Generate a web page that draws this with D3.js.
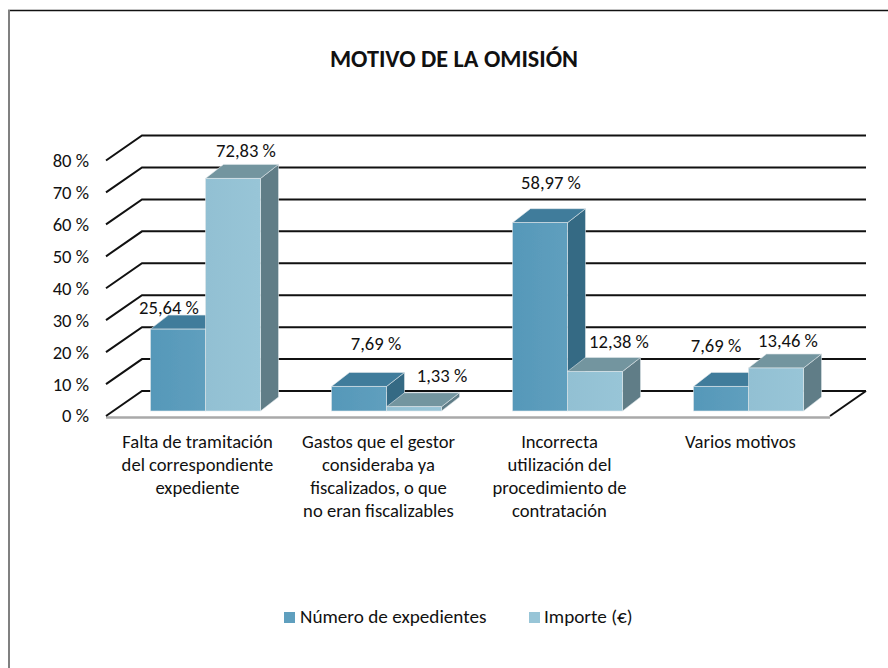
<!DOCTYPE html>
<html>
<head>
<meta charset="utf-8">
<script src="https://cdn.jsdelivr.net/npm/d3@7"></script>
<style>
  html, body { margin: 0; padding: 0; background: #fff; }
  svg { display: block; }
  text { font-family: Carlito, Lato, "Open Sans", sans-serif; fill: #111; }
</style>
</head>
<body>
<script>
var categories = [
  ["Falta de tramitación", "del correspondiente", "expediente"],
  ["Gastos que el gestor", "consideraba ya", "fiscalizados, o que", "no eran fiscalizables"],
  ["Incorrecta", "utilización del", "procedimiento de", "contratación"],
  ["Varios motivos"]
];
var seriesNames = ["Número de expedientes", "Importe (€)"];
var expedientes = [25.64, 7.69, 58.97, 7.69];
var importe = [72.83, 1.33, 12.38, 13.46];
var yTicks = [0, 10, 20, 30, 40, 50, 60, 70, 80];

// hand placed data labels in the original, offset from the top of each bar
var nudgeExp = [[-9, -22], [17, -43], [11, -40], [-5, -41]];
var nudgeImp = [[13, -28], [28, -31], [24, -30], [12, -28]];

var width = 888, height = 668;
var fontSize = "18.6px";
var svg = d3.select("body").append("svg").attr("width", width).attr("height", height);

// front edge of the floor runs 106..830, back wall is shifted by depth
var depthX = 36, depthY = 25;
var x = d3.scaleBand().domain(d3.range(4)).range([106, 830]).paddingInner(0.392).paddingOuter(0.196);
var y = d3.scaleLinear().domain([0, 80]).range([416, 160.5]);
var barShiftX = 9, barShiftY = -5;
var barDepthX = 18, barDepthY = 14;

var colors = [
  {front: ["#5698b9", "#5f9fbe"], top: "#3f7c9b", side: "#356a84"},
  {front: ["#92c0d3", "#98c5d7"], top: "#73959f", side: "#607d87"}
];

var defs = svg.append("defs");
colors.forEach(function (c, i) {
  var g = defs.append("linearGradient").attr("id", "front" + i);
  g.append("stop").attr("offset", "0%").attr("stop-color", c.front[0]);
  g.append("stop").attr("offset", "100%").attr("stop-color", c.front[1]);
});
var soft = defs.append("filter").attr("id", "soft").attr("x", "-5%").attr("y", "-5%").attr("width", "110%").attr("height", "110%");
soft.append("feGaussianBlur").attr("stdDeviation", 0.45);

// frame: only the top and left edges show in the scan
svg.append("line").attr("x1", 8).attr("x2", width).attr("y1", 10.5).attr("y2", 10.5)
  .attr("stroke", "#111").attr("stroke-width", 1.6);
svg.append("line").attr("x1", 9).attr("x2", 9).attr("y1", 10).attr("y2", height)
  .attr("stroke", "#808080").attr("stroke-width", 2);

svg.append("text").attr("x", 454).attr("y", 67).attr("text-anchor", "middle")
  .style("font-size", "24.2px").style("font-weight", "bold").text("MOTIVO DE LA OMISIÓN");

// floor
var floor = svg.append("g");
floor.append("line").attr("x1", 106).attr("x2", 830).attr("y1", y(0) + 1.5).attr("y2", y(0) + 1.5)
  .attr("stroke", "#a9a9a9").attr("stroke-width", 2.5);

// gridlines: diagonal on the side wall, horizontal on the back wall
var grid = svg.append("g").attr("stroke", "#111").attr("stroke-width", 2).attr("fill", "none");
yTicks.forEach(function (t) {
  grid.append("path").attr("d", d3.line()([
    [x.range()[0], y(t)],
    [x.range()[0] + depthX, y(t) - depthY],
    [x.range()[1] + depthX, y(t) - depthY]
  ]));
});
grid.append("line").attr("x1", x.range()[1]).attr("y1", y(0)).attr("x2", x.range()[1] + depthX).attr("y2", y(0) - depthY);

// y axis labels
var yAxis = d3.axisLeft(y).tickValues(yTicks).tickSize(0).tickPadding(17).tickFormat(function (d) { return d + " %"; });
var yg = svg.append("g").attr("transform", "translate(106,0)").call(yAxis);
yg.select(".domain").remove();
yg.selectAll("text").style("font-size", fontSize).attr("fill", null);

function bar3d(g, x0, w, v, c, gradId) {
  var top = y(v) + barShiftY, bottom = y(0) + barShiftY;
  var x1 = x0 + w;
  g.append("polygon").attr("fill", c.side).attr("stroke", "#dfe6ea").attr("stroke-width", 0.6)
    .attr("points", [[x1, top], [x1 + barDepthX, top - barDepthY], [x1 + barDepthX, bottom - barDepthY], [x1, bottom]].join(" "));
  g.append("polygon").attr("fill", c.top).attr("stroke", "#dfe6ea").attr("stroke-width", 0.6)
    .attr("points", [[x0, top], [x0 + barDepthX, top - barDepthY], [x1 + barDepthX, top - barDepthY], [x1, top]].join(" "));
  g.append("rect").attr("x", x0).attr("y", top).attr("width", w).attr("height", bottom - top)
    .attr("fill", "url(#" + gradId + ")").attr("stroke", "#dfe6ea").attr("stroke-width", 0.6);
}

var bars = svg.append("g").attr("filter", "url(#soft)");
var labels = svg.append("g");
var bw = x.bandwidth() / 2;

categories.forEach(function (cat, i) {
  var x0 = x(i) + barShiftX;
  var g = bars.append("g");
  bar3d(g, x0, bw, expedientes[i], colors[0], "front0");
  bar3d(g, x0 + bw, bw, importe[i], colors[1], "front1");

  [[expedientes[i], nudgeExp[i], x0], [importe[i], nudgeImp[i], x0 + bw]].forEach(function (d) {
    labels.append("text")
      .attr("x", d[2] + bw / 2 + d[1][0])
      .attr("y", y(d[0]) + barShiftY + d[1][1])
      .attr("dy", "0.35em")
      .attr("text-anchor", "middle")
      .style("font-size", fontSize)
      .text(d[0].toFixed(2).replace(".", ",") + " %");
  });

  // category label, lines kept as in the source
  var t = svg.append("text").attr("text-anchor", "middle").style("font-size", fontSize);
  cat.forEach(function (line, k) {
    t.append("tspan").attr("x", x(i) + x.bandwidth() / 2 + 1).attr("y", 448 + k * 23).text(line);
  });
});

// legend
var legendX = [284, 529], legendTextX = [300, 544];
seriesNames.forEach(function (name, i) {
  svg.append("rect").attr("x", legendX[i]).attr("y", 612).attr("width", 11).attr("height", 11)
    .attr("fill", colors[i].front[1]);
  svg.append("text").attr("x", legendTextX[i]).attr("y", 623).style("font-size", "19.2px").text(name);
});
</script>
</body>
</html>
